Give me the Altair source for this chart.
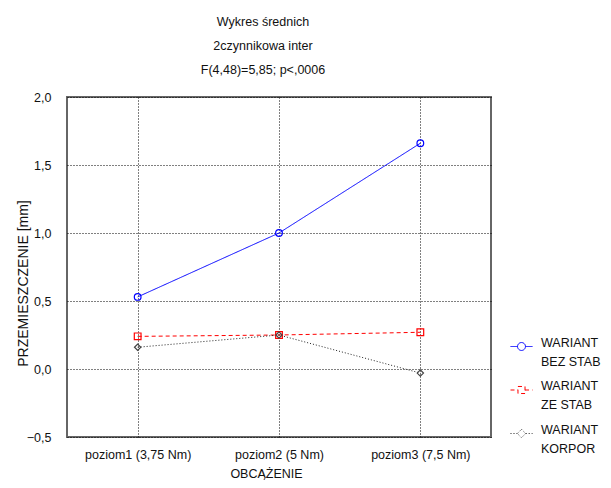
import altair as alt
import pandas as pd

# ---- data ----
categories = ["poziom1 (3,75 Nm)", "poziom2 (5 Nm)", "poziom3 (7,5 Nm)"]
series_names = ["WARIANT BEZ STAB", "WARIANT ZE STAB", "WARIANT KORPOR"]
bez_stab = [0.53, 1.00, 1.66]
ze_stab = [0.24, 0.25, 0.27]
korpor = [0.16, 0.25, -0.03]
y_ticks = [-0.5, 0.0, 0.5, 1.0, 1.5, 2.0]
title_lines = ["Wykres średnich", "2czynnikowa inter", "F(4,48)=5,85; p<,0006"]

# ---- styles ----
series_colors = ["#0000ff", "#ff0000", "#222222"]
series_dash = [[1, 0], [4, 3], [1, 2]]
marker_shapes = ["circle", "square", "diamond"]
marker_colors = ["#0000ff", "#ff0000", "#444444"]
legend_paths = [
    "M-1,0H-0.36M0.36,0H1M0.36,0A0.36,0.36,0,1,1,-0.36,0A0.36,0.36,0,1,1,0.36,0",
    "M-1,0H-0.32M0.32,0H1M-0.32,-0.32H0.32V0.32H-0.32Z",
    "M-1,0H-0.38M0.38,0H1M0,-0.38L0.38,0L0,0.38L-0.38,0Z",
]
FONT = "Liberation Sans, Arial, sans-serif"
TXT = "#111111"
LEGEND_LABEL = ("[substring(datum.label, 0, indexof(datum.label, ' ')), "
                "substring(datum.label, indexof(datum.label, ' ') + 1)]")

rows = []
for name, vals in zip(series_names, [bez_stab, ze_stab, korpor]):
    for c, v in zip(categories, vals):
        rows.append({"obc": c, "seria": name, "val": v})
df = pd.DataFrame(rows)

x_enc = alt.X(
    "obc:N",
    sort=categories,
    scale=alt.Scale(type="point", padding=0.5),
    axis=alt.Axis(
        title="OBCĄŻENIE", labelAngle=0, grid=True, ticks=False, domain=False,
        labelPadding=11, titleX=199, titleY=30, titleFontSize=12.5,
    ),
)
y_enc = alt.Y(
    "val:Q",
    scale=alt.Scale(domain=[-0.5, 2.0], nice=False, zero=False),
    axis=alt.Axis(
        values=y_ticks, grid=True, ticks=False, domain=False,
        labelExpr="replace(format(datum.value, '.1f'), '.', ',')",
        title="PRZEMIESZCZENIE [mm]", labelPadding=16, titleX=-37, titleY=186,
    ),
)
leg = alt.Legend(title=None, labelExpr=LEGEND_LABEL)
color_enc = alt.Color(
    "seria:N", scale=alt.Scale(domain=series_names, range=series_colors), legend=leg,
)
dash_enc = alt.StrokeDash(
    "seria:N", scale=alt.Scale(domain=series_names, range=series_dash), legend=leg,
)

base = alt.Chart(df).encode(x=x_enc, y=y_enc)

lines = base.mark_line(strokeWidth=1).encode(color=color_enc, strokeDash=dash_enc)

point_layers = []
for name, shp, col in zip(series_names, marker_shapes, marker_colors):
    point_layers.append(
        base.transform_filter(alt.datum.seria == name)
        .mark_point(shape=shp, filled=False, size=45 if shp != "diamond" else 40,
                    strokeWidth=1.2, color=col, opacity=1)
    )

legend_layer = base.transform_filter("false").mark_point(filled=False, strokeWidth=1).encode(
    color=color_enc,
    strokeDash=dash_enc,
    shape=alt.Shape("seria:N", scale=alt.Scale(domain=series_names, range=legend_paths),
                    legend=leg),
)

chart = (
    alt.layer(lines, *point_layers, legend_layer)
    .properties(
        width=424, height=340,
        title=alt.Title(title_lines, font=FONT, fontSize=12.5, fontWeight="normal",
                        color=TXT, lineHeight=24, anchor="middle", dx=-16, offset=15),
        autosize=alt.AutoSizeParams(type="none"),
        padding={"left": 59, "top": 89, "right": 112, "bottom": 43},
    )
    .configure(style={"guide-label": {"lineHeight": 19}})
    .configure_view(stroke="#666666", strokeWidth=2)
    .configure_axis(
        gridColor="#000000", gridDash=[1, 2], gridWidth=1, gridOpacity=1,
        labelFont=FONT, labelFontSize=12.5, labelColor=TXT,
        titleFont=FONT, titleFontSize=14, titleFontWeight="normal", titleColor=TXT,
    )
    .configure_legend(
        orient="none", legendX=443, legendY=238,
        symbolSize=484, symbolStrokeWidth=1, symbolOpacity=1,
        labelFont=FONT, labelFontSize=12.5, labelColor=TXT, labelLimit=0,
        labelBaseline="alphabetic", labelOffset=8, rowPadding=10.5,
    )
)

chart.save("out.html", embed_options={"renderer": "svg", "actions": False})
